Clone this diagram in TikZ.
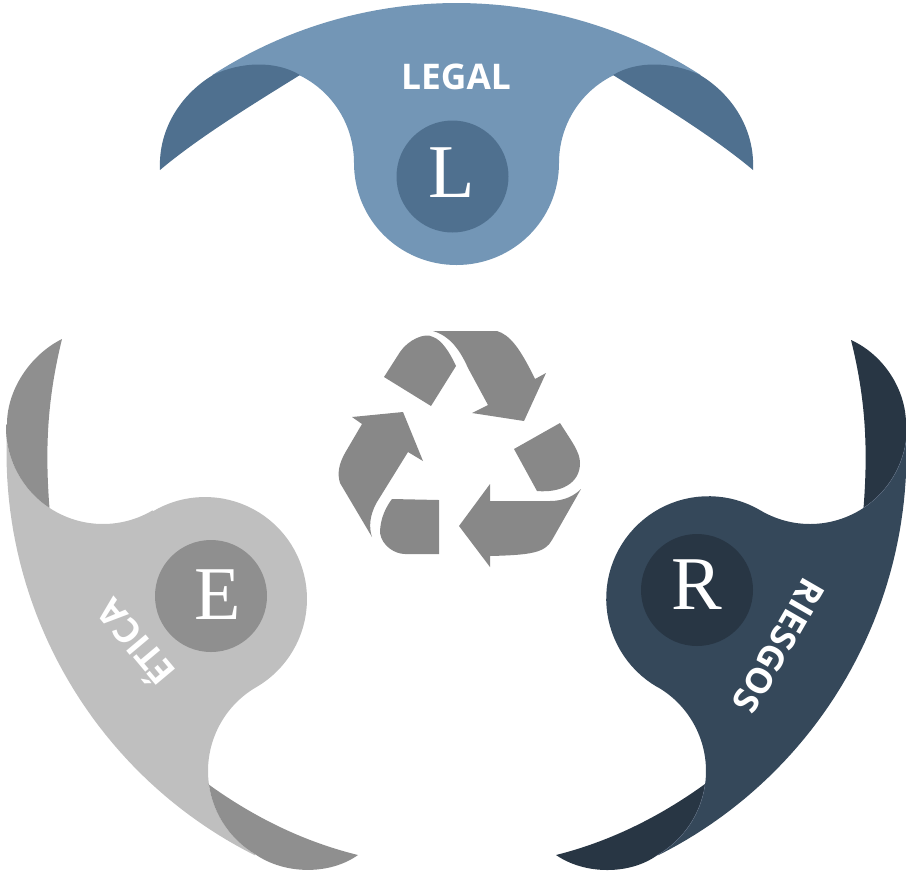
\documentclass[tikz,border=0pt]{standalone}
\usepackage{fontspec}
\setmainfont{Liberation Serif}
\newfontfamily\labelfont{Open Sans}
\definecolor{legalbody}{HTML}{7396B6}
\definecolor{legaldark}{HTML}{4F708F}
\definecolor{eticabody}{HTML}{BFBFBF}
\definecolor{eticadark}{HTML}{8F8F8F}
\definecolor{riesgobody}{HTML}{35485A}
\definecolor{riesgodark}{HTML}{283644}
\definecolor{riesgoedge}{HTML}{64748A}
\definecolor{recycle}{HTML}{888888}
\tikzset{
  badge/.style={circle,minimum size=84pt,inner sep=0pt},
  letter/.style={text=white,inner sep=0pt,font=\fontsize{57}{60}\selectfont},
  tag/.style={text=white,inner sep=0pt,font=\labelfont\bfseries\fontsize{26.5}{30}\selectfont},
  rng/.style 2 args={domain=#1:#2,samples=50},
}
\begin{document}
\begin{tikzpicture}[x=0.75pt,y=-0.75pt]
\useasboundingbox (0,0) rectangle (906,872);
% LEGAL
\fill[legalbody] plot[rng={122.9}{57.1}] ({456.5+450*cos(\x)},{453-450*sin(\x)}) -- (614,75)
  .. controls (580,91.5) and (559,125.5) .. (559,163)
  .. controls (559,220) and (513,265) .. (456.5,265)
  .. controls (400,265) and (354,220) .. (354,163)
  .. controls (354,125.5) and (333,91.5) .. (299,75) -- cycle;
\fill[legaldark] (160,170) .. controls (158,130) and (180,95) .. (213,75)
  .. controls (240,62) and (275,60) .. (300,75)
  .. controls (250,106) and (198,138) .. (160,170) -- cycle;
\fill[legaldark] (753,170) .. controls (755,130) and (733,95) .. (700,75)
  .. controls (673,62) and (638,60) .. (613,75)
  .. controls (663,106) and (715,138) .. (753,170) -- cycle;
\node[badge,fill=legaldark] (legalc) at (452.5,176.5) {};
\node[letter] (legall) at (452,172.5) {L};
\node[tag] (legalt) at (456,77) {LEGAL};
% ETICA
\fill[eticabody] plot[rng={176.3}{243.4}] ({456.5+450*cos(\x)},{453-450*sin(\x)})
  -- plot[rng={121}{239.8}] ({305+97*cos(\x)},{771+97*sin(\x)})
  -- plot[rng={59.8}{-120.7}] ({205+102*cos(\x)},{599+102*sin(\x)})
  -- plot[rng={59.3}{181}] ({103+97*cos(\x)},{427+97*sin(\x)}) -- cycle;
\fill[eticadark] (62,339) .. controls (30,355) and (7,390) .. (7,424)
  -- plot[rng={181}{123.5}] ({103+97*cos(\x)},{427+97*sin(\x)})
  .. controls (45,450) and (47,400) .. (62,339) -- cycle;
\fill[eticadark] plot[rng={172}{121}] ({305+97*cos(\x)},{771+97*sin(\x)})
  .. controls (285,875) and (330,875) .. (358,855)
  .. controls (305,842) and (255,818) .. (208,784) -- cycle;
\node[badge,fill=eticadark] (eticac) at (211,596) {};
\node[letter] (eticae) at (218,595) {E};
\node[tag,rotate=130] (eticat) at (133.5,644.5) {ÉTICA};
% RIESGOS
\fill[riesgobody] plot[rng={1.9}{-63.3}] ({456.5+450*cos(\x)},{453-450*sin(\x)})
  -- plot[rng={60}{-60}] ({609+97*cos(\x)},{771+97*sin(\x)})
  -- plot[rng={120}{300.6}] ({708.5+102.3*cos(\x)},{598.5+102.3*sin(\x)})
  -- plot[rng={120.6}{5}] ({810+97*cos(\x)},{427+97*sin(\x)}) -- cycle;
\fill[riesgodark] (851,340) .. controls (884,355) and (906,390) .. (906,424)
  -- plot[rng={5}{56.5}] ({810+97*cos(\x)},{427+97*sin(\x)})
  .. controls (868,450) and (866,400) .. (851,340) -- cycle;
\fill[riesgodark] plot[rng={8}{60}] ({609+97*cos(\x)},{771+97*sin(\x)})
  .. controls (630,875) and (585,875) .. (556,855)
  .. controls (608,842) and (658,818) .. (705,784) -- cycle;
\draw[riesgoedge,line width=0.25pt] plot[rng={8}{56.5}] ({810+97*cos(\x)},{427+97*sin(\x)});
\draw[riesgoedge,line width=0.25pt] plot[rng={8}{60}] ({609+97*cos(\x)},{771+97*sin(\x)});
\node[badge,fill=riesgodark] (riesgoc) at (697,590) {};
\node[letter] (riesgor) at (697,584.5) {R};
\node[tag,rotate=-120] (riesgot) at (779,646) {RIESGOS};
% recycling symbol
\fill[recycle] (384,377) -- (400,352) .. controls (408,340) and (425,332) .. (433,337) .. controls (442,340) and (450,353) .. (456,366) -- (431,406) -- cycle;
\fill[recycle] (433,331) -- (497,331) .. controls (510,335) and (520,348) .. (535,379) -- (546,373) -- (524,421) -- (472,413) -- (488,405) -- (468,368) .. controls (460,350) and (450,336) .. (433,331) -- cycle;
\fill[recycle] (560,423) -- (514,449) -- (537,491) .. controls (560,493) and (580,484) .. (580,463) .. controls (580,452) and (572,442) .. (560,423) -- cycle;
\fill[recycle] (581,489) -- (552,540) .. controls (545,553) and (530,555) .. (490,556) -- (490,567) -- (459,526) -- (490,484) -- (490,501) -- (550,501) .. controls (565,501) and (575,495) .. (581,489) -- cycle;
\fill[recycle] (439,500) -- (392,499) .. controls (382,512) and (380,525) .. (380,533) .. controls (382,546) and (395,554) .. (405,554) -- (439,554) -- cycle;
\fill[recycle] (403,412) -- (423,461) -- (408,452) -- (377,502) .. controls (369,516) and (369,528) .. (372,537) -- (340,483) .. controls (337,473) and (339,464) .. (345,453) -- (362,424) -- (352,417) -- cycle;
\end{tikzpicture}
\end{document}
